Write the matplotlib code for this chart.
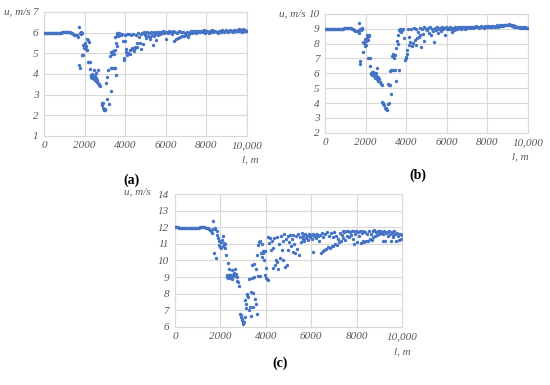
import matplotlib.pyplot as plt

# panel (a) samples: (l in m, u in m/s)
a_flat = [(0, 6.0), (50, 6.0), (100, 6.0), (150, 6.0), (200, 6.0), (250, 6.0), (300, 6.0),
          (350, 6.0), (400, 5.99), (450, 5.99), (500, 5.99), (550, 5.99), (600, 6.0), (650, 6.0),
          (700, 6.0), (750, 6.0), (800, 6.0), (850, 6.0), (900, 6.01), (950, 6.01), (1000, 6.02),
          (1050, 6.02), (1100, 6.03), (1150, 6.03), (1200, 6.03), (1250, 6.02), (1300, 6.01),
          (1350, 5.99), (1400, 5.97), (1450, 5.94), (1500, 5.9), (1550, 5.86), (1600, 5.9)]
a_dip = [(1650, 5.9), (1680, 5.8), (1700, 6.25), (1720, 4.45), (1760, 4.3), (1780, 6.0), (1800, 5.95),
         (1820, 6.05), (1850, 6.0), (1880, 4.9), (1900, 4.9), (1920, 5.4), (1950, 5.35), (1980, 5.25),
         (2000, 5.5), (2020, 5.3), (2050, 5.2), (2080, 5.35), (2100, 5.15), (2120, 5.7), (2150, 4.6),
         (2170, 5.65), (2200, 5.55), (2220, 4.6), (2250, 4.6), (2270, 4.25), (2300, 3.95), (2320, 3.85),
         (2340, 3.9), (2360, 4.0), (2380, 3.8), (2400, 3.9), (2420, 3.95), (2440, 3.75), (2460, 3.85),
         (2480, 4.2), (2500, 3.9), (2520, 3.7), (2540, 3.8), (2560, 3.65), (2580, 4.05), (2600, 3.7),
         (2620, 3.6), (2640, 4.2), (2660, 3.55), (2700, 3.5), (2730, 3.45), (2770, 3.4), (2850, 2.6),
         (2870, 2.5), (2900, 2.6), (2920, 2.35), (2950, 2.3), (2970, 2.25), (3000, 2.25), (3030, 2.3),
         (3050, 3.55), (3080, 2.8), (3120, 3.85), (3170, 4.2), (3220, 2.55), (3250, 4.85), (3280, 3.15),
         (3300, 4.3), (3320, 5.05), (3350, 4.3), (3370, 4.95), (3400, 5.1), (3430, 4.3), (3450, 4.95),
         (3480, 5.15), (3500, 5.8), (3520, 4.3), (3540, 5.5), (3560, 3.95), (3580, 5.35), (3600, 5.9),
         (3620, 6.0), (3640, 5.95), (3660, 5.85), (3680, 6.0), (3700, 5.95), (3720, 5.9), (3750, 5.95),
         (3800, 5.9), (3850, 5.95), (3880, 5.6), (3920, 4.65), (3950, 4.75), (3980, 5.9), (4000, 5.6),
         (4020, 5.2), (4050, 5.05), (4080, 5.95), (4100, 4.9), (4150, 5.0), (4200, 5.95), (4230, 5.15),
         (4260, 4.95), (4300, 5.9), (4330, 5.2), (4360, 5.25), (4400, 5.95), (4430, 5.1), (4460, 5.3),
         (4500, 5.25), (4530, 5.9), (4560, 5.5), (4600, 5.3), (4640, 6.0), (4680, 5.8), (4720, 5.5),
         (4760, 5.95), (4800, 5.2), (4840, 6.0), (4880, 5.45), (4920, 6.05), (4960, 5.9)]
a_tail = [(5000, 6.0), (5040, 5.75), (5080, 6.05), (5120, 5.85), (5160, 6.0), (5200, 5.8), (5240, 5.7),
          (5280, 6.05), (5320, 5.9), (5360, 5.4), (5400, 5.85), (5440, 6.05), (5480, 5.95), (5520, 5.65),
          (5560, 6.05), (5600, 5.9), (5650, 6.05), (5700, 5.95), (5750, 6.05), (5800, 6.0), (5850, 6.08),
          (5900, 6.0), (5950, 6.05), (6000, 5.7), (6050, 6.05), (6100, 6.0), (6150, 6.08), (6200, 6.02),
          (6250, 6.05), (6300, 5.95), (6350, 6.08), (6400, 5.6), (6450, 6.05), (6500, 5.7), (6550, 6.0),
          (6600, 5.75), (6650, 6.08), (6700, 5.8), (6750, 6.02), (6800, 5.85), (6850, 6.05), (6900, 5.85),
          (6950, 6.0), (7000, 5.9), (7050, 6.05), (7100, 5.8), (7150, 5.95), (7200, 6.05), (7250, 6.1),
          (7300, 6.0), (7350, 6.08), (7400, 6.05), (7450, 6.1), (7500, 6.0), (7550, 6.08), (7600, 6.05),
          (7650, 6.1), (7700, 6.02), (7750, 6.08), (7800, 6.1), (7850, 6.05), (7900, 6.12), (7950, 6.0),
          (8000, 6.08), (8050, 6.1), (8100, 6.05), (8150, 6.0), (8200, 6.1), (8250, 6.05), (8300, 6.12),
          (8350, 6.02), (8400, 6.08), (8450, 6.1), (8500, 6.05), (8550, 6.0), (8600, 6.1), (8650, 6.08),
          (8700, 6.05), (8750, 6.12), (8800, 6.08), (8850, 6.05), (8900, 6.1), (8950, 6.12), (9000, 6.08),
          (9050, 6.05), (9100, 6.1), (9150, 6.12), (9200, 6.08), (9250, 6.1), (9300, 6.05), (9350, 6.12),
          (9400, 6.1), (9450, 6.08), (9500, 6.12), (9550, 6.1), (9600, 6.15), (9650, 6.1), (9700, 6.12),
          (9750, 6.05), (9800, 6.15), (9850, 6.1), (9900, 6.12), (9950, 6.1), (10000, 6.08)]

# panel (b)
b_flat = [(0, 9.0), (50, 9.0), (100, 9.0), (150, 9.0), (200, 9.0), (250, 9.0), (300, 9.0),
          (350, 8.99), (400, 8.99), (450, 8.99), (500, 8.99), (550, 8.99), (600, 8.99), (650, 9.0),
          (700, 9.0), (750, 9.0), (800, 9.0), (850, 9.01), (900, 9.01), (950, 9.02), (1000, 9.03),
          (1050, 9.04), (1100, 9.05), (1150, 9.06), (1200, 9.06), (1250, 9.05), (1300, 9.03),
          (1350, 9.0), (1400, 8.97), (1450, 8.93), (1500, 8.88), (1550, 8.84), (1600, 8.86)]
b_dip = [(1620, 8.85), (1650, 8.7), (1670, 9.38), (1700, 6.8), (1720, 9.0), (1740, 6.6), (1760, 8.9),
         (1800, 9.05), (1830, 8.95), (1860, 7.45), (1880, 8.1), (1920, 8.05), (1950, 7.85), (1980, 8.3),
         (2000, 7.9), (2020, 8.15), (2050, 8.6), (2080, 8.4), (2100, 7.0), (2120, 8.25), (2150, 8.55),
         (2170, 8.5), (2200, 7.0), (2220, 6.5), (2250, 6.05), (2280, 5.95), (2300, 6.1), (2330, 5.9),
         (2360, 6.0), (2380, 6.1), (2400, 5.95), (2420, 5.8), (2450, 6.0), (2470, 5.7), (2500, 5.85),
         (2520, 6.05), (2550, 5.6), (2580, 6.35), (2600, 5.75), (2620, 5.5), (2650, 5.6), (2700, 5.4),
         (2750, 5.3), (2800, 5.2), (2830, 4.1), (2860, 4.0), (2880, 3.95), (2920, 3.85), (2950, 3.7),
         (2980, 3.65), (3000, 3.6), (3050, 3.55), (3080, 3.95), (3100, 5.25), (3130, 5.2), (3160, 4.0),
         (3180, 6.15), (3200, 5.2), (3230, 6.25), (3260, 4.6), (3300, 7.15), (3330, 6.2), (3360, 7.3),
         (3400, 7.05), (3430, 7.25), (3460, 6.2), (3500, 7.7), (3520, 5.5), (3550, 8.15), (3580, 7.95),
         (3600, 8.6), (3620, 6.2), (3650, 8.9), (3680, 8.85), (3700, 9.0), (3720, 8.8), (3750, 8.95),
         (3800, 8.9), (3850, 9.0), (3900, 8.35), (3950, 6.9), (3980, 7.1), (4000, 7.05), (4030, 7.3),
         (4060, 7.6), (4100, 8.95), (4130, 7.9), (4160, 8.45), (4200, 8.1), (4250, 9.0), (4280, 7.85),
         (4330, 8.05), (4380, 9.05), (4420, 8.25), (4460, 7.9), (4500, 9.0), (4540, 8.35), (4580, 8.8),
         (4620, 8.45), (4660, 9.05), (4700, 8.6), (4740, 7.8), (4780, 8.95), (4820, 8.65), (4860, 9.1),
         (4900, 8.2), (4950, 9.0)]
b_tail = [(5000, 8.9), (5050, 9.05), (5100, 8.7), (5150, 9.1), (5200, 8.55), (5250, 9.0), (5300, 8.85),
          (5350, 8.1), (5400, 9.05), (5450, 8.9), (5500, 9.1), (5550, 8.7), (5600, 9.0), (5650, 9.05),
          (5700, 8.85), (5750, 9.1), (5800, 8.95), (5850, 9.05), (5900, 8.6), (5950, 9.1), (6000, 9.0),
          (6050, 9.05), (6100, 8.95), (6150, 9.1), (6200, 9.0), (6250, 8.75), (6300, 9.05), (6350, 8.9),
          (6400, 9.15), (6450, 9.0), (6500, 8.95), (6550, 9.1), (6600, 9.05), (6650, 9.15), (6700, 8.95),
          (6750, 9.1), (6800, 9.05), (6850, 9.15), (6900, 9.0), (6950, 9.1), (7000, 9.05), (7050, 9.15),
          (7100, 9.1), (7150, 9.05), (7200, 9.15), (7250, 9.1), (7300, 9.05), (7350, 9.15), (7400, 9.1),
          (7450, 9.2), (7500, 9.1), (7550, 9.15), (7600, 9.05), (7650, 9.15), (7700, 9.2), (7750, 9.1),
          (7800, 9.15), (7850, 9.05), (7900, 9.2), (7950, 9.15), (8000, 9.1), (8050, 9.2), (8100, 9.15),
          (8150, 9.1), (8200, 9.2), (8250, 9.15), (8300, 9.2), (8350, 9.1), (8400, 9.2), (8450, 9.25),
          (8500, 9.15), (8550, 9.2), (8600, 9.25), (8650, 9.2), (8700, 9.25), (8750, 9.2), (8800, 9.28),
          (8850, 9.22), (8900, 9.25), (8950, 9.28), (9000, 9.25), (9050, 9.3), (9100, 9.25), (9150, 9.28),
          (9200, 9.2), (9250, 9.22), (9300, 9.15), (9350, 9.2), (9400, 9.12), (9450, 9.15), (9500, 9.1),
          (9550, 9.12), (9600, 9.08), (9650, 9.1), (9700, 9.05), (9750, 9.1), (9800, 9.08), (9850, 9.1),
          (9900, 9.05), (9950, 9.08), (10000, 9.05)]

# panel (c)
c_flat = [(0, 12.0), (50, 12.0), (100, 11.99), (150, 11.99), (200, 11.98), (250, 11.98), (300, 11.97),
          (350, 11.97), (400, 11.96), (450, 11.96), (500, 11.95), (550, 11.95), (600, 11.95),
          (650, 11.95), (700, 11.95), (750, 11.95), (800, 11.96), (850, 11.96), (900, 11.97),
          (950, 11.97), (1000, 11.98), (1050, 11.98), (1100, 11.99), (1150, 12.0), (1200, 12.0),
          (1250, 12.0), (1300, 11.99), (1350, 11.98), (1400, 11.96), (1450, 11.93), (1500, 11.9)]
c_dip = [(1550, 11.85), (1600, 11.75), (1630, 11.65), (1660, 11.9), (1690, 12.35), (1720, 10.45),
         (1750, 11.95), (1780, 11.9), (1810, 10.15), (1840, 11.75), (1870, 11.55), (1900, 11.35),
         (1930, 10.95), (1960, 11.2), (1990, 10.8), (2020, 11.1), (2050, 10.75), (2080, 11.25),
         (2100, 10.9), (2130, 11.5), (2160, 11.05), (2190, 10.75), (2220, 11.0), (2250, 10.3),
         (2280, 9.1), (2300, 9.0), (2320, 9.85), (2340, 8.95), (2360, 9.1), (2380, 9.05), (2400, 9.5),
         (2420, 8.95), (2440, 9.15), (2460, 9.0), (2480, 9.1), (2500, 9.4), (2520, 8.9), (2550, 9.1),
         (2580, 9.05), (2620, 9.25), (2650, 9.5), (2690, 9.2), (2720, 9.0), (2750, 8.75), (2790, 8.7),
         (2830, 8.45), (2870, 6.8), (2900, 6.6), (2920, 6.7), (2940, 6.4), (2960, 6.45), (2980, 6.15),
         (3000, 6.3), (3040, 6.3), (3070, 6.6), (3090, 7.6), (3110, 7.15), (3130, 7.4), (3160, 7.9),
         (3190, 8.0), (3230, 7.8), (3260, 7.0), (3280, 8.9), (3300, 7.2), (3330, 8.1), (3350, 6.65),
         (3380, 9.7), (3400, 8.95), (3420, 7.2), (3450, 8.05), (3470, 9.8), (3500, 9.0), (3530, 7.7),
         (3550, 9.5), (3570, 7.4), (3600, 6.8), (3610, 10.3), (3640, 9.05), (3670, 10.95), (3700, 11.1),
         (3730, 9.05), (3750, 11.15), (3790, 10.45), (3820, 11.0), (3850, 10.2), (3870, 10.55),
         (3900, 10.45), (3920, 10.0), (3950, 10.55), (3970, 9.1), (4000, 9.55), (4030, 8.95),
         (4070, 8.9), (4100, 11.4), (4120, 8.8), (4150, 11.05), (4190, 11.35), (4220, 10.6),
         (4260, 11.15), (4300, 10.75), (4340, 9.55), (4370, 11.35), (4410, 9.7), (4440, 10.05),
         (4480, 9.9), (4510, 11.4), (4560, 9.5), (4590, 11.0), (4630, 10.15), (4660, 11.45),
         (4700, 10.6), (4740, 11.2), (4780, 10.05), (4820, 11.6), (4850, 9.6), (4880, 11.3),
         (4920, 9.7), (4960, 11.5), (4990, 10.6)]
c_tail = [(5030, 11.1), (5070, 11.55), (5100, 10.85), (5140, 11.3), (5180, 10.5), (5220, 11.55),
          (5260, 11.0), (5300, 10.45), (5340, 11.45), (5380, 10.7), (5420, 11.6), (5460, 10.3),
          (5500, 11.4), (5540, 11.1), (5580, 11.65), (5620, 11.3), (5660, 11.5), (5700, 11.15),
          (5740, 11.6), (5780, 11.35), (5820, 11.5), (5860, 11.25), (5900, 11.6), (5940, 11.4),
          (5980, 11.55), (6020, 11.3), (6060, 11.6), (6100, 10.5), (6140, 11.45), (6180, 11.55),
          (6220, 11.35), (6260, 11.6), (6300, 11.45), (6340, 11.2), (6380, 11.55), (6420, 10.45),
          (6460, 11.65), (6500, 10.55), (6540, 11.4), (6580, 10.65), (6620, 11.6), (6660, 10.7),
          (6700, 11.7), (6740, 10.8), (6780, 11.5), (6820, 10.75), (6860, 11.65), (6900, 10.9),
          (6940, 11.4), (6980, 10.85), (7020, 11.7), (7060, 11.0), (7100, 11.5), (7140, 10.95),
          (7180, 11.3), (7220, 11.1), (7260, 11.65), (7300, 11.2), (7340, 11.55), (7380, 11.8),
          (7420, 11.35), (7460, 11.7), (7500, 11.25), (7540, 11.75), (7580, 11.5), (7620, 11.8),
          (7660, 11.4), (7700, 11.7), (7740, 11.55), (7780, 11.8), (7820, 11.3), (7860, 11.75),
          (7900, 11.0), (7940, 11.6), (7980, 11.8), (8020, 11.1), (8060, 11.7), (8100, 11.5),
          (8140, 11.75), (8180, 11.05), (8220, 11.65), (8260, 11.2), (8300, 11.8), (8340, 11.1),
          (8380, 11.7), (8420, 11.15), (8460, 11.6), (8500, 11.2), (8540, 11.75), (8580, 11.3),
          (8620, 11.6), (8660, 11.25), (8700, 11.75), (8740, 11.4), (8780, 11.85), (8820, 11.5),
          (8860, 11.7), (8900, 11.55), (8940, 11.8), (8980, 11.6), (9020, 11.75), (9060, 11.65),
          (9100, 11.7), (9140, 11.6), (9180, 11.2), (9220, 11.75), (9260, 11.15), (9300, 11.65),
          (9340, 11.7), (9380, 11.5), (9420, 11.75), (9460, 11.6), (9500, 11.15), (9540, 11.7),
          (9580, 11.55), (9620, 11.4), (9660, 11.8), (9700, 11.6), (9740, 11.2), (9780, 11.65),
          (9820, 11.5), (9860, 11.25), (9900, 11.6), (9940, 11.3), (9980, 11.55)]

x_ticks = [0, 2000, 4000, 6000, 8000, 10000]
x_ticklabels = ['0', '2000', '4000', '6000', '8000', '10,000']

blue = '#4472C4'
grey = '#595959'
serif = 'Liberation Serif'

fig = plt.figure(figsize=(5.5, 3.85), dpi=100)


def panel(rect, pts, ylo, yhi):
    ax = fig.add_axes(rect)
    xs = [p[0] for p in pts]
    us = [p[1] for p in pts]
    ax.scatter(xs, us, s=6, color=blue, linewidths=0, zorder=3)
    ax.set_xlim(0, 10000)
    ax.set_ylim(ylo, yhi)
    ax.set_xticks(x_ticks)
    ax.set_xticklabels(x_ticklabels)
    ax.set_yticks(range(ylo, yhi + 1))
    ax.grid(True, color='#d9d9d9', linewidth=0.8)
    ax.tick_params(length=0, pad=4, labelsize=8, labelcolor=grey)
    for lab in ax.get_xticklabels() + ax.get_yticklabels():
        lab.set_fontfamily(serif)
        lab.set_fontstyle('italic')
    for sp in ax.spines.values():
        sp.set_color('#d9d9d9')
        sp.set_linewidth(0.8)
    return ax


panel([0.080, 0.647, 0.369, 0.322], a_flat + a_dip + a_tail, 1, 7)
panel([0.591, 0.655, 0.369, 0.309], b_flat + b_dip + b_tail, 2, 10)
panel([0.318, 0.151, 0.413, 0.345], c_flat + c_dip + c_tail, 6, 14)

lab_kw = dict(fontsize=8, color=grey, family=serif, style='italic', va='center')
fig.text(4 / 550, 1 - 12 / 385, 'u, m/s', ha='left', **lab_kw)
fig.text(279 / 550, 1 - 14 / 385, 'u, m/s', ha='left', **lab_kw)
fig.text(124 / 550, 1 - 192 / 385, 'u, m/s', ha='left', **lab_kw)
fig.text(250 / 550, 1 - 160 / 385, 'l, m', ha='center', **lab_kw)
fig.text(520 / 550, 1 - 157 / 385, 'l, m', ha='center', **lab_kw)
fig.text(402 / 550, 1 - 352 / 385, 'l, m', ha='center', **lab_kw)

cap_kw = dict(fontsize=10, fontweight='bold', family=serif, color='black', ha='center', va='center')
fig.text(131 / 550, 1 - 180 / 385, '(a)', **cap_kw)
fig.text(418 / 550, 1 - 175 / 385, '(b)', **cap_kw)
fig.text(280 / 550, 1 - 363 / 385, '(c)', **cap_kw)

fig.savefig('out.png', dpi=100)
